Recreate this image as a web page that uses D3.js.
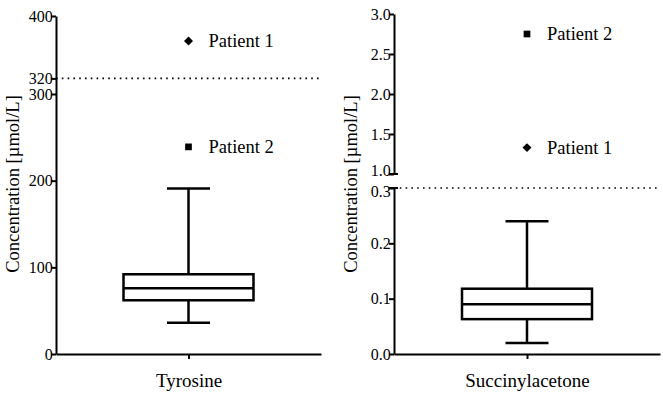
<!DOCTYPE html>
<html>
<head>
<meta charset="utf-8">
<script src="https://cdn.jsdelivr.net/npm/d3@7"></script>
<style>
  body { margin: 0; background: #fff; }
</style>
</head>
<body>
<script>
var categories = ["Tyrosine", "Succinylacetone"];
// box stats: min, q1, median, q3, max
var tyrBox = [36, 62, 76, 92, 191];
var saBox = [0.02, 0.063, 0.09, 0.118, 0.24];
var tyrPatients = [["Patient 1", 368, "diamond"], ["Patient 2", 239, "square"]];
var saPatients = [["Patient 2", 2.75, "square"], ["Patient 1", 1.33, "diamond"]];
var cutoffs = [320, 0.3];
var tyrTicks = [0, 100, 200, 300, 320, 400];
var saLowTicks = [0, 0.1, 0.2, 0.3];
var saHighTicks = [1.0, 1.5, 2.0, 2.5, 3.0];

var FONT = "'Liberation Serif', 'Times New Roman', Times, 'DejaVu Serif', serif";
var W = 663, H = 394;
var svg = d3.select("body").append("svg")
  .attr("width", W).attr("height", H)
  .attr("font-family", FONT);

var base = 354;

function drawBox(g, x, y, stats) {
  var cx = x(0), bw = 130, cw = 43;
  var line = function (x1, y1, x2, y2) {
    g.append("line").attr("x1", x1).attr("y1", y1).attr("x2", x2).attr("y2", y2)
      .attr("stroke", "#000").attr("stroke-width", 2.5);
  };
  line(cx, y(stats[0]), cx, y(stats[1]));
  line(cx, y(stats[3]), cx, y(stats[4]));
  line(cx - cw / 2, y(stats[0]), cx + cw / 2, y(stats[0]));
  line(cx - cw / 2, y(stats[4]), cx + cw / 2, y(stats[4]));
  g.append("rect").attr("x", cx - bw / 2).attr("y", y(stats[3]))
    .attr("width", bw).attr("height", y(stats[1]) - y(stats[3]))
    .attr("fill", "none").attr("stroke", "#000").attr("stroke-width", 2.5);
  line(cx - bw / 2, y(stats[2]), cx + bw / 2, y(stats[2]));
}

function drawPatients(g, x, y, pts) {
  pts.forEach(function (p) {
    var cx = x(0), cy = y(p[1]);
    var dia = p[2] == "diamond";
    g.append("path").attr("d", d3.symbol().type(d3.symbolSquare).size(dia ? 40 : 45)())
      .attr("transform", "translate(" + cx + "," + cy + ")" + (dia ? " rotate(45)" : ""))
      .attr("fill", "#000");
    g.append("text").attr("x", cx + 20).attr("y", cy + 6)
      .attr("font-family", FONT).style("font-size", "18.5px").text(p[0]);
  });
}

function xAxis(g, x0, x1, label) {
  var x = d3.scalePoint().domain([label]).range([x0, x1]).padding(0.5);
  g.append("g").attr("transform", "translate(0," + base + ")")
    .call(d3.axisBottom(x).tickSize(5).tickSizeOuter(0).tickPadding(14))
    .call(function (a) {
      a.attr("font-family", FONT);
      a.select(".domain").attr("stroke-width", 2);
      a.selectAll(".tick line").attr("stroke-width", 2);
      a.selectAll("text").attr("font-size", 19).attr("dy", "0.75em");
    });
  return function () { return x(label); };
}

function styleY(size) {
  return function (a) {
    a.attr("font-family", FONT);
    a.select(".domain").attr("stroke-width", 2);
    a.selectAll(".tick line").attr("stroke-width", 2);
    a.selectAll("text").attr("font-size", size).attr("dx", "0.3em");
  };
}

function dotted(g, x0, x1, yv) {
  g.append("line").attr("x1", x0).attr("x2", x1).attr("y1", yv).attr("y2", yv)
    .attr("stroke", "#000").attr("stroke-width", 1.6).attr("stroke-dasharray", "1.6,4.2");
}

function yLabel(g, cx) {
  g.append("text").attr("transform", "translate(" + cx + ",184) rotate(-90)")
    .attr("text-anchor", "middle").attr("font-family", FONT).style("font-size", "18.5px")
    .text("Concentration [\u00b5mol/L]");
}

// ---- Tyrosine panel
var gL = svg.append("g");
var axL = 56, endL = 321;
var yT = d3.scaleLinear().domain([0, 300, 400]).range([base, 94, 16]);
dotted(gL, axL, endL, yT(cutoffs[0]));
var xT = xAxis(gL, axL, endL, categories[0]);
gL.append("g").attr("transform", "translate(" + axL + ",0)")
  .call(d3.axisLeft(yT).tickValues(tyrTicks).tickSize(5).tickSizeOuter(0).tickFormat(d3.format("d")))
  .call(styleY(16));
drawBox(gL, xT, yT, tyrBox);
drawPatients(gL, xT, yT, tyrPatients);
yLabel(gL, 19);

// ---- Succinylacetone panel
var gR = svg.append("g");
var axR = 394, endR = 660;
var yLow = d3.scaleLinear().domain([0, 0.3]).range([base, 188]);
var yHigh = d3.scaleLinear().domain([1, 3]).range([174, 14]);
var ySA = function (v) { return v >= 1 ? yHigh(v) : yLow(v); };
dotted(gR, axR, endR, yLow(cutoffs[1]));
var xS = xAxis(gR, axR, endR, categories[1]);
gR.append("g").attr("transform", "translate(" + axR + ",0)")
  .call(d3.axisLeft(yLow).tickValues(saLowTicks).tickSize(5).tickSizeOuter(0).tickFormat(d3.format(".1f")))
  .call(styleY(16));
gR.append("g").attr("transform", "translate(" + axR + ",0)")
  .call(d3.axisLeft(yHigh).tickValues(saHighTicks).tickSize(5).tickSizeOuter(0).tickFormat(d3.format(".1f")))
  .call(styleY(16));
// nudge the break labels apart a little
gR.selectAll(".tick text").filter(function (d) { return d === 1; }).attr("dy", "0.12em");
gR.selectAll(".tick text").filter(function (d) { return d === 0.3; }).attr("dy", "0.5em");
// break caps
[yHigh(1), yLow(0.3)].forEach(function (v) {
  gR.append("line").attr("x1", axR - 5).attr("x2", axR + 4).attr("y1", v).attr("y2", v)
    .attr("stroke", "#000").attr("stroke-width", 2);
});
drawBox(gR, xS, ySA, saBox);
drawPatients(gR, xS, ySA, saPatients);
yLabel(gR, 357);
</script>
</body>
</html>
